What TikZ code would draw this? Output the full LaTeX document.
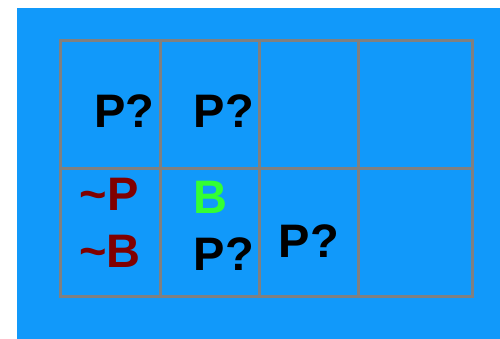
\documentclass[tikz,border=0pt]{standalone}
\usepackage{fontspec}
\setmainfont{Liberation Sans}
\definecolor{skyblue}{RGB}{17,153,250}
\definecolor{gridgray}{RGB}{128,128,128}
\definecolor{darkred}{RGB}{128,0,0}
\definecolor{brightgreen}{RGB}{51,255,51}
\begin{document}
\begin{tikzpicture}[x=1pt,y=-1pt,
  gridline/.style={draw=gridgray,line width=3pt},
  label/.style={inner sep=0pt,anchor=base,font=\fontsize{47}{47}\selectfont\bfseries},
  query/.style={label,text=black},
  negated/.style={label,text=darkred},
  sensed/.style={label,text=brightgreen}]
  % page and backdrop
  \useasboundingbox (0,0) rectangle (500,339);
  \fill[white] (0,0) rectangle (500,339);
  \fill[skyblue] (17,8) rectangle (500,339);
  % 4x2 grid of cells
  \draw[gridline] (60,41) rectangle (472,296);
  \draw[gridline] (60,168.5) -- (472,168.5);
  \foreach \gx in {160,259,358}
    \draw[gridline] (\gx,41) -- (\gx,296);
  % cell contents
  \node[query]   (q1) at (124.5,128) {P?};
  \node[query]   (q2) at (224,128) {P?};
  \node[negated] (np) at (109,210) {\char`\~P};
  \node[negated] (nb) at (110,267) {\char`\~B};
  \node[sensed]  (b)  at (210,213) {B};
  \node[query]   (q3) at (224,270) {P?};
  \node[query]   (q4) at (309,257) {P?};
\end{tikzpicture}
\end{document}
